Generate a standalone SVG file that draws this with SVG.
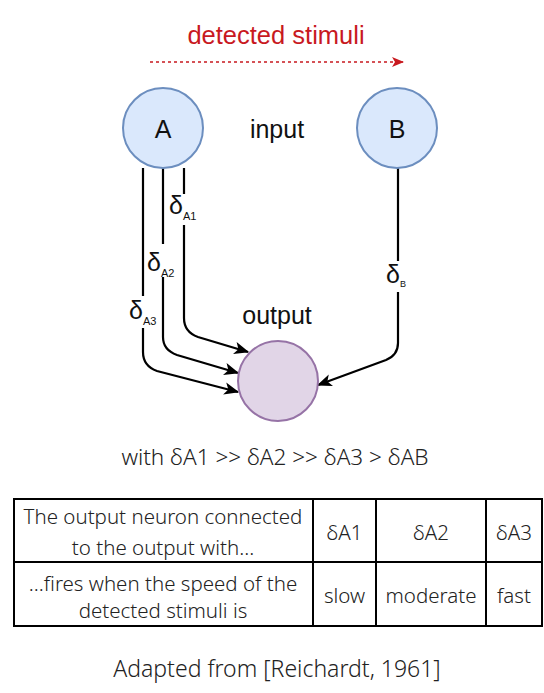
<svg xmlns="http://www.w3.org/2000/svg" width="544" height="693" viewBox="0 0 544 693">
<defs>
<style>
.node-in{fill:#dae8fc;stroke:#6c8ebf;stroke-width:2}
.node-out{fill:#e1d5e7;stroke:#9673a6;stroke-width:2}
.lbl{font-family:"Liberation Sans",Arial,sans-serif;fill:#111}
.edge{fill:none;stroke:#000;stroke-width:2.2}
.thin{font-family:"Noto Sans","Open Sans",sans-serif;font-weight:300;fill:#222}
.cell{fill:none;stroke:#000;stroke-width:2}
.bg{fill:#fff}
</style>
<marker id="ah" viewBox="0 0 12 10" refX="11" refY="5" markerWidth="15" markerHeight="13" markerUnits="userSpaceOnUse" orient="auto">
<path d="M0,0 L12,5 L0,10 L3,5 z" fill="#000"/>
</marker>
<marker id="ahr" viewBox="0 0 12 10" refX="11" refY="5" markerWidth="12" markerHeight="10" markerUnits="userSpaceOnUse" orient="auto">
<path d="M0,0 L12,5 L0,10 L3,5 z" fill="#c8191f"/>
</marker>
</defs>
<rect width="544" height="693" fill="#fff"/>

<g id="stimuli">
<text x="276" y="44" text-anchor="middle" font-family="Liberation Sans,Arial,sans-serif" font-size="25.5" fill="#c8191f">detected stimuli</text>
<line x1="150" y1="62" x2="403" y2="62" stroke="#c8191f" stroke-width="1.6" stroke-dasharray="3 3" marker-end="url(#ahr)"/>
</g>

<g id="connectors">
<path class="edge" d="M184 168 L184 318 Q184 332 198 337 L248 352" marker-end="url(#ah)"/>
<path class="edge" d="M163 168 L163 337 Q163 350 177 355 L238 373" marker-end="url(#ah)"/>
<path class="edge" d="M143 168 L143 352 Q143 366 157 371 L238 392" marker-end="url(#ah)"/>
<path class="edge" d="M398 168 L398 343 Q398 355 386 360 L318 385" marker-end="url(#ah)"/>
<g id="label-a1">
<rect class="bg" x="169" y="194" width="32" height="31"/>
<text class="lbl" x="169" y="214" font-size="25">δ<tspan font-size="11" dy="6">A1</tspan></text>
</g>
<g id="label-a2">
<rect class="bg" x="147" y="244" width="32" height="33"/>
<text class="lbl" x="147" y="271" font-size="25">δ<tspan font-size="11" dy="6">A2</tspan></text>
</g>
<g id="label-a3">
<rect class="bg" x="129" y="296" width="32" height="32"/>
<text class="lbl" x="129" y="319" font-size="25">δ<tspan font-size="11" dy="6">A3</tspan></text>
</g>
<g id="label-b">
<rect class="bg" x="386" y="261" width="22" height="31"/>
<text class="lbl" x="386" y="283" font-size="25">δ<tspan font-size="9" dy="4">B</tspan></text>
</g>
</g>

<g id="node-a">
<circle class="node-in" cx="163" cy="128" r="40"/>
<text class="lbl" x="163" y="138" font-size="25" text-anchor="middle">A</text>
</g>
<g id="node-b">
<circle class="node-in" cx="397" cy="128" r="40"/>
<text class="lbl" x="397" y="138" font-size="25" text-anchor="middle">B</text>
</g>
<g id="label-input">
<text class="lbl" x="277" y="138" font-size="25" text-anchor="middle">input</text>
</g>
<g id="node-output">
<circle class="node-out" cx="278" cy="381" r="40"/>
</g>
<g id="label-output">
<text class="lbl" x="277" y="324" font-size="25" text-anchor="middle">output</text>
</g>

<g id="relation">
<text class="thin" x="275" y="465" font-size="22.5" text-anchor="middle">with δA1 &gt;&gt; δA2 &gt;&gt; δA3 &gt; δAB</text>
</g>

<g id="table">
<rect class="cell" x="14" y="499" width="528" height="127"/>
<line class="cell" x1="14" y1="562" x2="542" y2="562"/>
<line class="cell" x1="313" y1="499" x2="313" y2="626"/>
<line class="cell" x1="376" y1="499" x2="376" y2="626"/>
<line class="cell" x1="486" y1="499" x2="486" y2="626"/>
<g font-size="20.5" text-anchor="middle" class="thin">
<text class="thin" x="163" y="524">The output neuron connected</text>
<text class="thin" x="163" y="555">to the output with...</text>
<text class="thin" x="163" y="591">...fires when the speed of the</text>
<text class="thin" x="163" y="618">detected stimuli is</text>
<text class="thin" x="344.5" y="540">δA1</text>
<text class="thin" x="431" y="540">δA2</text>
<text class="thin" x="514" y="540">δA3</text>
<text class="thin" x="344.5" y="603">slow</text>
<text class="thin" x="431" y="603">moderate</text>
<text class="thin" x="514" y="603">fast</text>
</g>
</g>

<g id="caption">
<text class="thin" x="277" y="677" font-size="23" text-anchor="middle">Adapted from [Reichardt, 1961]</text>
</g>
</svg>
